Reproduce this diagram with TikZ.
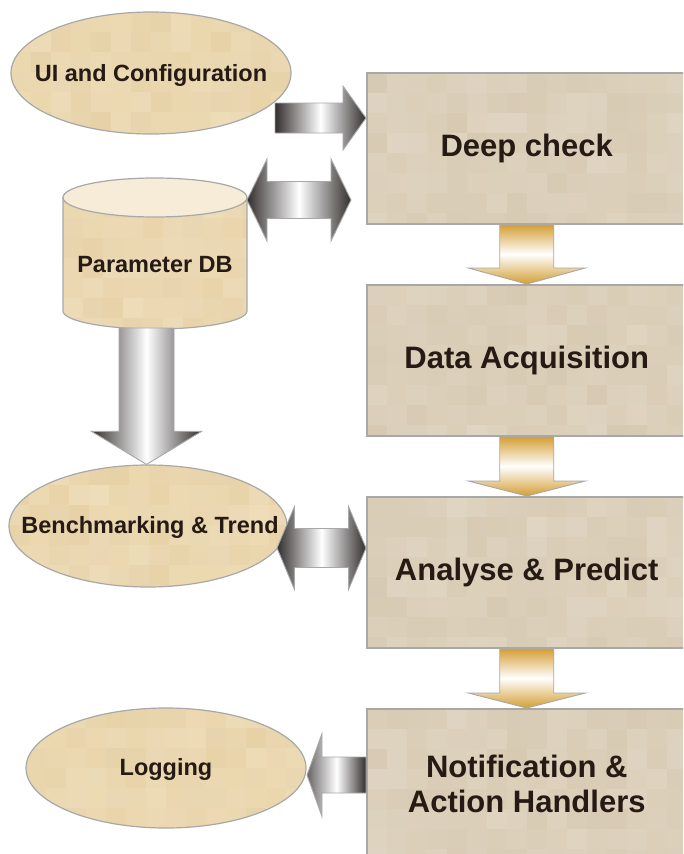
\documentclass[tikz,border=0pt]{standalone}
\usepackage{fontspec}
\setmainfont{Liberation Sans}
\usetikzlibrary{shapes.geometric, calc}

\definecolor{boxtan}{RGB}{219,207,185}
\definecolor{ovaltan}{RGB}{236,216,174}
\definecolor{drumbody}{RGB}{236,216,176}
\definecolor{drumtop}{RGB}{246,236,216}
\definecolor{edgegray}{RGB}{168,168,168}
\definecolor{amber}{RGB}{212,158,52}
\definecolor{steel}{RGB}{52,47,47}
\definecolor{ink}{RGB}{38,26,20}
\definecolor{tanspot}{RGB}{160,120,70}

% block arrow: style, tail, tip, shaft half width, head half width, head length
\newcommand\onearrow[6]{%
  \coordinate (hb) at ($(#3)!#6!(#2)$);
  \path[#1] ($(#2)!#4!90:(#3)$) -- ($(hb)!#4!90:(#3)$) -- ($(hb)!#5!90:(#3)$)
    -- (#3) -- ($(hb)!#5!-90:(#3)$) -- ($(hb)!#4!-90:(#3)$)
    -- ($(#2)!#4!-90:(#3)$) -- cycle;}

% double-headed block arrow: style, tip A, tip B, shaft half width, head half width, head length
\newcommand\twoarrow[6]{%
  \coordinate (hbA) at ($(#2)!#6!(#3)$);
  \coordinate (hbB) at ($(#3)!#6!(#2)$);
  \path[#1] (#2) -- ($(hbA)!#5!90:(#3)$) -- ($(hbA)!#4!90:(#3)$)
    -- ($(hbB)!#4!90:(#3)$) -- ($(hbB)!#5!90:(#3)$) -- (#3)
    -- ($(hbB)!#5!-90:(#3)$) -- ($(hbB)!#4!-90:(#3)$)
    -- ($(hbA)!#4!-90:(#3)$) -- ($(hbA)!#5!-90:(#3)$) -- cycle;}

\tikzset{
  mosaic/.style 2 args={path picture={
    \foreach \i in {0,...,#1}{
      \foreach \j in {0,...,#2}{
        \pgfmathsetmacro\mlight{rnd*0.15}
        \pgfmathsetmacro\mdark{rnd*0.06}
        \fill[white, opacity=\mlight]
          ($(path picture bounding box.north west)+(20*\i,20*\j)$) rectangle +(20,20);
        \fill[tanspot, opacity=\mdark]
          ($(path picture bounding box.north west)+(20*\i,20*\j)$) rectangle +(20,20);
      }}}},
  procbox/.style={draw=edgegray, line width=1.5pt, fill=boxtan,
    minimum width=320pt, minimum height=151pt, inner sep=0pt, anchor=north west,
    text=ink, font=\bfseries\fontsize{31}{35}\selectfont, align=center,
    mosaic={16}{7}},
  oval/.style={ellipse, draw=edgegray, line width=1.2pt, fill=ovaltan,
    inner sep=0pt, minimum width=280pt, minimum height=122pt, mosaic={14}{6}},
  ovaltext/.style={text=ink, font=\bfseries\fontsize{23.5}{28}\selectfont, inner sep=0pt},
  steelarrow/.style={draw=edgegray, line width=0.9pt,
    left color=steel, right color=steel, middle color=white},
  amberarrow/.style={draw=edgegray, line width=0.9pt,
    top color=amber, bottom color=amber, middle color=white},
}

\begin{document}
\begin{tikzpicture}[x=1pt, y=-1pt]
\pgfmathsetseed{2024}
\useasboundingbox (0,0) rectangle (683,854);
\clip (0,0) rectangle (683,854);

% process column
\node[procbox] (deep)  at (366,72)  {Deep check};
\node[procbox] (acq)   at (366,284) {Data Acquisition};
\node[procbox] (anal)  at (366,496) {Analyse \& Predict};
\node[procbox] (notif) at (366,708) {Notification \&\\Action Handlers};

% side ovals
\node[oval] (ui)    at (151,73)  {};
\node[oval, minimum width=278pt] (bench) at (148,526) {};
\node[oval, minimum height=120pt] (log)   at (166,768) {};
\node[ovaltext] at ($(ui)+(0,2)$) {UI and Configuration};
\node[ovaltext] at ($(bench)+(2,1)$) {Benchmarking \& Trend};
\node[ovaltext] at ($(log)+(0,1)$) {Logging};

% parameter database drum
\path[fill=drumbody, draw=edgegray, line width=1.2pt, mosaic={9}{7}]
  (63,197.5) -- (63,311) arc[start angle=180, end angle=0, x radius=92, y radius=18]
  -- (247,197.5) -- cycle;
\path[fill=drumtop, draw=edgegray, line width=1.2pt]
  (155,197.5) ellipse [x radius=92, y radius=19.5];
\node[ovaltext] (db) at (155,265) {Parameter DB};

% connectors
\coordinate (a1t) at (275,118);
\coordinate (a1h) at (a1t -| deep.west);
\onearrow{steelarrow}{a1t}{a1h}{15pt}{32pt}{23pt}

\coordinate (a2l) at (247,200);
\coordinate (a2r) at (351,200);
\twoarrow{steelarrow}{a2l}{a2r}{18.5pt}{41pt}{20pt}

\coordinate (a3t) at (146.5,328);
\coordinate (a3h) at (a3t |- bench.north);
\onearrow{steelarrow}{a3t}{a3h}{27.5pt}{55pt}{33pt}

\coordinate (a4l) at (277,548);
\coordinate (a4r) at (a4l -| anal.west);
\twoarrow{steelarrow}{a4l}{a4r}{19.5pt}{41.5pt}{17.5pt}

\coordinate (a5y) at (0,775);
\coordinate (a5t) at (notif.west |- a5y);
\coordinate (a5h) at (307,775);
\onearrow{steelarrow, left color=steel!75!white, middle color=white}{a5t}{a5h}{18pt}{41.5pt}{15pt}

\onearrow{amberarrow}{deep.south}{acq.north}{27pt}{58.5pt}{16pt}
\onearrow{amberarrow}{acq.south}{anal.north}{27pt}{58.5pt}{15pt}
\onearrow{amberarrow}{anal.south}{notif.north}{27pt}{58.5pt}{15pt}
\end{tikzpicture}
\end{document}
